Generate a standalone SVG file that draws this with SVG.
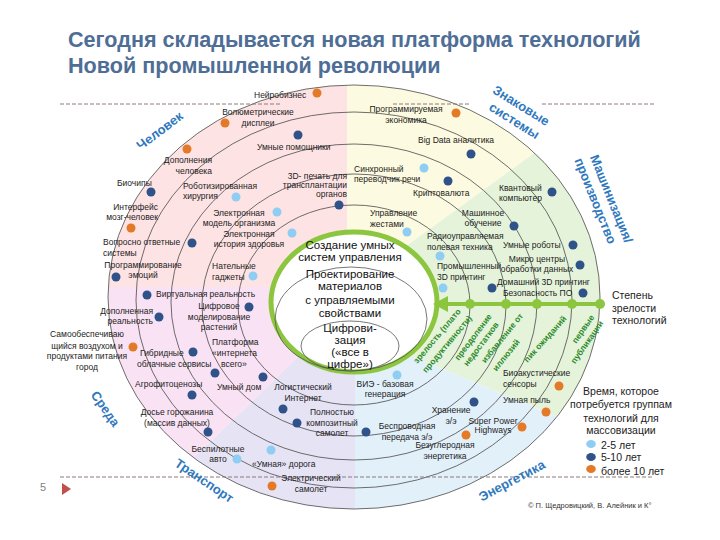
<svg xmlns="http://www.w3.org/2000/svg" width="720" height="540" viewBox="0 0 720 540">
<defs>
<style>
text { font-family: "Liberation Sans", Arial, sans-serif; }
.t { font-size: 8.5px; fill: #1c1c1c; }
.m { text-anchor: middle; }
.e { text-anchor: end; }
.ctr { font-size: 11.5px; fill: #111; text-anchor: middle; }
.sec { font-size: 13px; font-weight: bold; fill: #2f78bd; text-anchor: middle; }
.ph { font-size: 8.5px; font-weight: bold; fill: #2b8a2b; text-anchor: middle; }
.lg { font-size: 10.5px; fill: #222; }
.ring { fill: none; stroke: #4a4a4a; stroke-width: 0.8; }
.dl { fill: #8fcdf3; }
.dd { fill: #2f5289; }
.do { fill: #e47a27; }
.dash { stroke: #8c7b7b; stroke-width: 1; stroke-dasharray: 4 2; fill: none; }
.gdot { fill: #8cc63f; }
</style>
<clipPath id="outer"><ellipse cx="354" cy="297" rx="246" ry="212"/></clipPath>
</defs>
<rect width="720" height="540" fill="#ffffff"/>
<g id="title" font-size="21.6" font-weight="bold" fill="#4e6e96">
<text x="68" y="47">Сегодня складывается новая платформа технологий</text>
<text x="68" y="73">Новой промышленной революции</text>
</g>
<g id="sectors" clip-path="url(#outer)">
<polygon points="0,0 347,0 347,292 0,287" fill="#fde3e4"/>
<polygon points="347,300 347,0 720,0 720,18 350,287" fill="#fcfae0"/>
<polygon points="350,287 720,18 720,485 354,332" fill="#e5f3da"/>
<polygon points="354,332 720,485 720,540 355,540" fill="#e2f0fa"/>
<polygon points="355,330 355,540 108,540 300,355" fill="#e6e3f5"/>
<polygon points="300,355 108,540 0,540 0,287 350,287 350,330" fill="#f9e2f3"/>
</g>
<g id="rings">
<ellipse class="ring" cx="354" cy="305" rx="116" ry="100"/>
<ellipse class="ring" cx="354" cy="305" rx="152" ry="131"/>
<ellipse class="ring" cx="354" cy="302" rx="183" ry="158"/>
<ellipse class="ring" cx="354" cy="300" rx="218" ry="188"/>
<ellipse class="ring" cx="354" cy="297" rx="246" ry="212"/>
</g>
<g id="dashes">
<line class="dash" x1="60" y1="104" x2="282" y2="104"/>
<line class="dash" x1="393" y1="104" x2="470" y2="104"/>
<line class="dash" x1="542" y1="104" x2="655" y2="104"/>
<line class="dash" x1="60" y1="477" x2="652" y2="477"/>
</g>
<g id="core">
<ellipse cx="354" cy="302" rx="83" ry="70" fill="#ffffff" stroke="#8cc63f" stroke-width="5"/>
<ellipse cx="351" cy="319" rx="76" ry="52" fill="none" stroke="#555" stroke-width="0.8"/>
<ellipse cx="350" cy="346" rx="49" ry="25" fill="none" stroke="#555" stroke-width="0.8"/>
<text class="ctr" x="350" y="249">Создание умных</text>
<text class="ctr" x="350" y="261">систем управления</text>
<text class="ctr" x="350" y="278">Проектирование</text>
<text class="ctr" x="350" y="290">материалов</text>
<text class="ctr" x="350" y="304">с управляемыми</text>
<text class="ctr" x="350" y="317">свойствами</text>
<text class="ctr" x="350" y="332">Цифрови-</text>
<text class="ctr" x="350" y="344">зация</text>
<text class="ctr" x="350" y="356">(«все в</text>
<text class="ctr" x="350" y="368">цифре»)</text>
</g>
<g id="connectors">
<line x1="600" y1="304" x2="444" y2="304" stroke="#8cc63f" stroke-width="4"/>
<polygon points="433,304 448,296 448,312" fill="#8cc63f"/>
<circle class="gdot" cx="470" cy="304" r="5"/>
<circle class="gdot" cx="506" cy="304" r="5"/>
<circle class="gdot" cx="537" cy="304" r="5"/>
<circle class="gdot" cx="572" cy="304" r="5"/>
<circle class="gdot" cx="600" cy="304" r="5"/>
</g>
<g id="phases">
<text class="ph" transform="translate(437,336) rotate(-50)" dy="3">зрелость (плато</text>
<text class="ph" transform="translate(447,344) rotate(-50)" dy="3">продуктивности)</text>
<text class="ph" transform="translate(473,337) rotate(-53)" dy="3">преодоление</text>
<text class="ph" transform="translate(481,344) rotate(-53)" dy="3">недостатков</text>
<text class="ph" transform="translate(502,338) rotate(-51)" dy="3">избавление от</text>
<text class="ph" transform="translate(506,355) rotate(-51)" dy="3">иллюзий</text>
<text class="ph" transform="translate(545,339) rotate(-48)" dy="3">пик ожиданий</text>
<text class="ph" transform="translate(583,329) rotate(-55)" dy="3">первые</text>
<text class="ph" transform="translate(587,342) rotate(-55)" dy="3">публикации</text>
</g>
<g id="sector-labels">
<text class="sec" transform="translate(160,131) rotate(-37)" dy="4">Человек</text>
<text class="sec" transform="translate(521,106) rotate(32)" dy="4">Знаковые</text>
<text class="sec" transform="translate(514,121) rotate(32)" dy="4">системы</text>
<text class="sec" transform="translate(611,199) rotate(68)" dy="4">Машинизация/</text>
<text class="sec" transform="translate(595,201) rotate(68)" dy="4">производство</text>
<text class="sec" transform="translate(105,409) rotate(55)" dy="4">Среда</text>
<text class="sec" transform="translate(204,481) rotate(34)" dy="4">Транспорт</text>
<text class="sec" transform="translate(512,481) rotate(-28)" dy="4">Энергетика</text>
</g>
<g id="n-neuro"><circle class="do" cx="317" cy="93" r="4.5"/><text class="t" x="254" y="98">Нейробизнес</text></g>
<g id="n-volum"><circle class="do" cx="225" cy="123" r="4.5"/><text class="t m" x="258" y="115">Волюметрические</text><text class="t m" x="258" y="126">дисплеи</text></g>
<g id="n-assist"><circle class="dd" cx="298" cy="135" r="4.5"/><text class="t" x="257" y="150">Умные помощники</text></g>
<g id="n-augm"><circle class="do" cx="187" cy="149" r="4.5"/><text class="t e" x="212" y="163">Дополнения</text><text class="t e" x="212" y="174">человека</text></g>
<g id="n-biochip"><circle class="dd" cx="151" cy="192" r="4.5"/><text class="t" x="117" y="186">Биочипы</text></g>
<g id="n-bci"><circle class="do" cx="131" cy="228" r="4.5"/><text class="t e" x="158" y="210">Интерфейс</text><text class="t e" x="158" y="220">мозг-человек</text></g>
<g id="n-robosurg"><circle class="dl" cx="236" cy="197" r="4.5"/><text class="t" x="183" y="189">Роботизированная</text><text class="t" x="183" y="199">хирургия</text></g>
<g id="n-emodel"><circle class="dl" cx="277" cy="212" r="4.5"/><text class="t m" x="239" y="216">Электронная</text><text class="t m" x="239" y="226">модель организма</text></g>
<g id="n-ehealth"><circle class="dl" cx="292" cy="233" r="4.5"/><text class="t m" x="249" y="237">Электронная</text><text class="t m" x="249" y="247">история здоровья</text></g>
<g id="n-3dorg"><circle class="dd" cx="339" cy="205" r="4.5"/><text class="t e" x="347" y="179" font-size="8px">3D- печать для</text><text class="t e" x="347" y="188" font-size="8px">трансплантации</text><text class="t e" x="347" y="197" font-size="8px">органов</text></g>
<g id="n-qa"><circle class="dd" cx="192" cy="243" r="4.5"/><text class="t" x="103" y="245">Вопросно ответные</text><text class="t" x="103" y="256">системы</text></g>
<g id="n-emo"><circle class="dd" cx="116" cy="277" r="4.5"/><text class="t m" x="143" y="268">Программирование</text><text class="t m" x="143" y="278">эмоций</text></g>
<g id="n-wear"><circle class="dl" cx="253" cy="276" r="4.5"/><text class="t" x="212" y="269">Нательные</text><text class="t" x="212" y="280">гаджеты</text></g>
<g id="n-vr"><circle class="dd" cx="147" cy="295" r="4.5"/><text class="t" x="156" y="297">Виртуальная реальность</text></g>
<g id="n-ar"><circle class="dd" cx="159" cy="317" r="4.5"/><text class="t e" x="153" y="314">Дополненная</text><text class="t e" x="153" y="324">реальность</text></g>
<g id="n-plants"><circle class="dd" cx="249" cy="307" r="4.5"/><text class="t m" x="219" y="309">Цифровое</text><text class="t m" x="219" y="320">моделирование</text><text class="t m" x="219" y="330">растений</text></g>
<g id="n-city"><circle class="do" cx="133" cy="347" r="4.5"/><text class="t m" x="87" y="337">Самообеспечиваю</text><text class="t m" x="87" y="349">щийся воздухом и</text><text class="t m" x="87" y="359">продуктами питания</text><text class="t m" x="87" y="370">город</text></g>
<g id="n-cloud"><circle class="dd" cx="193" cy="352" r="4.5"/><text class="t" x="140" y="356">Гибридные</text><text class="t" x="137" y="367">облачные сервисы</text></g>
<g id="n-iot"><circle class="dd" cx="215" cy="373" r="4.5"/><text class="t" x="212" y="345">Платформа</text><text class="t" x="212" y="356">«интернета</text><text class="t" x="221" y="367">всего»</text></g>
<g id="n-agro"><circle class="dd" cx="192" cy="395" r="4.5"/><text class="t" x="135" y="387">Агрофитоценозы</text></g>
<g id="n-home"><circle class="dd" cx="263" cy="377" r="4.5"/><text class="t" x="217" y="390">Умный дом</text></g>
<g id="n-logist"><circle class="dd" cx="283" cy="409" r="4.5"/><text class="t m" x="303" y="390">Логистический</text><text class="t m" x="303" y="401">Интернет</text></g>
<g id="n-dossier"><circle class="dd" cx="208" cy="432" r="4.5"/><text class="t m" x="177" y="415">Досье горожанина</text><text class="t m" x="177" y="426">(массив данных)</text></g>
<g id="n-auto"><circle class="dl" cx="237" cy="459" r="4.5"/><text class="t m" x="218" y="452">Беспилотные</text><text class="t m" x="218" y="462">авто</text></g>
<g id="n-road"><circle class="dl" cx="271" cy="450" r="4.5"/><text class="t" x="252" y="467">«Умная» дорога</text></g>
<g id="n-eplane"><circle class="do" cx="272" cy="486" r="4.5"/><text class="t m" x="311" y="481">Электрический</text><text class="t m" x="311" y="492">самолет</text></g>
<g id="n-composite"><circle class="dd" cx="297" cy="423" r="4.5"/><text class="t m" x="332" y="415">Полностью</text><text class="t m" x="332" y="426">композитный</text><text class="t m" x="332" y="436">самолет</text></g>
<g id="n-res"><circle class="dl" cx="397" cy="375" r="4.5"/><text class="t m" x="385" y="387">ВИЭ - базовая</text><text class="t m" x="385" y="397">генерация</text></g>
<g id="n-wireless"><circle class="dd" cx="366" cy="432" r="4.5"/><text class="t m" x="407" y="429">Беспроводная</text><text class="t m" x="407" y="440">передача э/э</text></g>
<g id="n-storage"><circle class="dd" cx="474" cy="402" r="4.5"/><text class="t m" x="451" y="413">Хранение</text><text class="t m" x="451" y="424">э/э</text></g>
<g id="n-sph"><circle class="do" cx="522" cy="427" r="4.5"/><text class="t m" x="493" y="424">Super Power</text><text class="t m" x="493" y="433">Highways</text></g>
<g id="n-carbon"><circle class="do" cx="466" cy="435" r="4.5"/><text class="t m" x="445" y="448">Безуглеродная</text><text class="t m" x="445" y="459">энергетика</text></g>
<g id="n-bioac"><circle class="do" cx="559" cy="386" r="4.5"/><text class="t" x="503" y="376">Биоакустические</text><text class="t" x="503" y="387">сенсоры</text></g>
<g id="n-dust"><circle class="do" cx="546" cy="412" r="4.5"/><text class="t" x="503" y="403">Умная пыль</text></g>
<g id="n-secsw"><circle class="dd" cx="583" cy="293" r="4.5"/><text class="t" x="503" y="296">Безопасность ПО</text></g>
<g id="n-home3d"><circle class="dd" cx="492" cy="288" r="4.5"/><text class="t" x="497" y="285">Домашний 3D принтинг</text></g>
<g id="n-microdc"><circle class="dd" cx="580" cy="265" r="4.5"/><text class="t m" x="537" y="262">Микро центры</text><text class="t m" x="537" y="272">обработки данных</text></g>
<g id="n-robots"><circle class="dd" cx="573" cy="245" r="4.5"/><text class="t" x="503" y="248">Умные роботы</text></g>
<g id="n-ind3d"><circle class="dl" cx="443" cy="288" r="4.5"/><text class="t" x="437" y="269">Промышленный</text><text class="t" x="437" y="280">3D принтинг</text></g>
<g id="n-radio"><circle class="dl" cx="440" cy="256" r="4.5"/><text class="t" x="427" y="239">Радиоуправляемая</text><text class="t" x="427" y="250">полевая техника</text></g>
<g id="n-ml"><circle class="dd" cx="514" cy="226" r="4.5"/><text class="t m" x="483" y="216">Машинное</text><text class="t m" x="483" y="226">обучение</text></g>
<g id="n-quantum"><circle class="dd" cx="552" cy="192" r="4.5"/><text class="t" x="499" y="191">Квантовый</text><text class="t" x="499" y="201">компьютер</text></g>
<g id="n-crypto"><circle class="dd" cx="448" cy="181" r="4.5"/><text class="t" x="413" y="196">Криптовалюта</text></g>
<g id="n-transl"><circle class="dl" cx="424" cy="168" r="4.5"/><text class="t" x="354" y="172">Синхронный</text><text class="t" x="354" y="182">переводчик речи</text></g>
<g id="n-bigdata"><circle class="dd" cx="471" cy="154" r="4.5"/><text class="t" x="418" y="143">Big Data аналитика</text></g>
<g id="n-progecon"><circle class="do" cx="456" cy="113" r="4.5"/><text class="t m" x="406" y="112">Программируемая</text><text class="t m" x="406" y="123">экономика</text></g>
<g id="n-gesture"><circle class="dl" cx="407" cy="232" r="4.5"/><text class="t" x="370" y="216">Управление</text><text class="t" x="370" y="227">жестами</text></g>
<g id="maturity"><text class="lg" x="612" y="299">Степень</text><text class="lg" x="612" y="312">зрелости</text><text class="lg" x="612" y="324">технологий</text></g>
<g id="legend">
<text class="lg m" x="621" y="395">Время, которое</text>
<text class="lg m" x="621" y="408">потребуется группам</text>
<text class="lg m" x="621" y="422">технологий для</text>
<text class="lg m" x="621" y="434">массовизации</text>
<ellipse class="dl" cx="591" cy="444" rx="4.8" ry="4"/><text class="lg" x="601" y="449">2-5 лет</text>
<ellipse class="dd" cx="591" cy="457" rx="4.8" ry="4"/><text class="lg" x="601" y="461">5-10 лет</text>
<ellipse class="do" cx="591" cy="469" rx="4.8" ry="4"/><text class="lg" x="601" y="475">более 10 лет</text>
</g>
<g id="footer">
<text x="40" y="491" font-size="11" fill="#7f7f7f">5</text>
<polygon points="62,483 71,489 62,495" fill="#c0504d"/>
<text x="528" y="508" font-size="7.5" fill="#333">© П. Щедровицкий, В. Алейник и К°</text>
</g>
</svg>
